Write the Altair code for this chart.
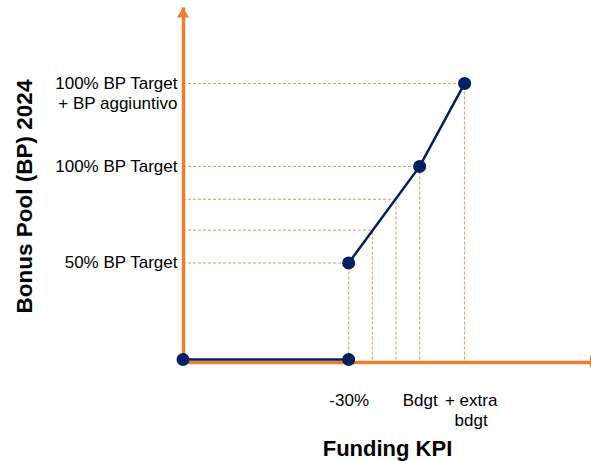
import altair as alt
import pandas as pd

# Bonus pool curve: flat floor up to -30%, then linear ramp to target and extra
kpi = [0, 70, 70, 100, 119]
bonus_pool = [0, 0, 50, 100, 143]
segment = ["floor", "floor", "ramp", "ramp", "ramp"]

# Dashed reference lines (drop lines to both axes)
guide_kpi = [70, 80, 90, 100, 119]
guide_bp = [50, 67, 83, 100, 143]

# Axis ticks and their labels
y_tick_values = [50, 100, 143]
y_tick_labels = [["50% BP Target"], ["100% BP Target"], ["100% BP Target", "+ BP aggiuntivo"]]
x_tick_values = [70, 100, 119]
x_tick_labels = [["-30%"], ["Bdgt"], ["+ extra", "bdgt"]]

# Arrow heads at the ends of the axes
arrow_kpi = [0, 174.2]
arrow_bp = [179.8, -1.0]
arrow_shape = ["triangle-up", "triangle-right"]

ORANGE = "#ED7D31"
NAVY = "#002060"
FONT = "Liberation Sans"


def label_expr(values, labels):
    expr = "''"
    for v, lab in reversed(list(zip(values, labels))):
        arr = "[" + ", ".join("'" + s + "'" for s in lab) + "]"
        expr = f"datum.value == {v} ? {arr} : {expr}"
    return expr


x_scale = alt.Scale(domain=[0, 172.4], nice=False, zero=False)
y_scale = alt.Scale(domain=[-1.3, 182.6], nice=False, zero=False)

x_axis = alt.Axis(
    title="Funding KPI",
    values=x_tick_values,
    labelExpr=label_expr(x_tick_values, x_tick_labels),
    labelPadding=38,
    labelBaseline="middle",
    labelAlign="center",
    labelLineHeight=20.5,
    # the two-line "+ extra bdgt" label sits a little to the right of its tick
    labelOffset={"condition": {"test": "datum.value == 119", "value": 6}, "value": 0},
    titleX=204,
    titleY=86,
    titleBaseline="middle",
    titleAlign="center",
)
y_axis = alt.Axis(
    title="Bonus Pool (BP) 2024",
    values=y_tick_values,
    labelExpr=label_expr(y_tick_values, y_tick_labels),
    labelPadding=6,
    labelBaseline="middle",
    labelAlign="right",
    labelLineHeight=20.5,
    titleAngle=270,
    titleX=-159,
    titleY=189,
    titleBaseline="middle",
    titleAlign="center",
    titleFontSize=22.5,
)


def X(field):
    return alt.X(field, type="quantitative", scale=x_scale, axis=x_axis)


def Y(field):
    return alt.Y(field, type="quantitative", scale=y_scale, axis=y_axis)


curve = pd.DataFrame({"kpi": kpi, "bp": bonus_pool, "segment": segment})
guides = pd.DataFrame({
    "kpi": guide_kpi,
    "bp": guide_bp,
    "origin_kpi": [0] * len(guide_kpi),
    "origin_bp": [0] * len(guide_bp),
})
arrows = pd.DataFrame({"kpi": arrow_kpi, "bp": arrow_bp, "shape": arrow_shape})

horizontal_guides = alt.Chart(guides).mark_rule(
    color=ORANGE, strokeWidth=1, strokeDash=[3, 2], opacity=0.85
).encode(x=X("origin_kpi"), x2="kpi", y=Y("bp"))

vertical_guides = alt.Chart(guides).mark_rule(
    color=ORANGE, strokeWidth=1, strokeDash=[3, 2], opacity=0.85
).encode(x=X("kpi"), y=Y("origin_bp"), y2="bp")

arrow_heads = alt.Chart(arrows).mark_point(
    filled=True, color=ORANGE, size=144, opacity=1, clip=False
).encode(x=X("kpi"), y=Y("bp"), shape=alt.Shape("shape:N", scale=None))

line = alt.Chart(curve).mark_line(color=NAVY, strokeWidth=2.5).encode(
    x=X("kpi"), y=Y("bp"), detail="segment:N"
)

points = alt.Chart(curve).mark_circle(color=NAVY, size=170, opacity=1).encode(
    x=X("kpi"), y=Y("bp")
)

chart = (
    alt.layer(horizontal_guides, vertical_guides, arrow_heads, line, points)
    .properties(
        width=408,
        height=355,
        autosize=alt.AutoSizeParams(type="none"),
        padding={"left": 183, "top": 7, "right": 0, "bottom": 99},
        background="white",
    )
    .configure_view(stroke=None)
    .configure_axis(
        domainColor=ORANGE,
        domainWidth=3.5,
        ticks=False,
        tickSize=0,
        grid=False,
        labelFont=FONT,
        labelFontSize=17,
        labelColor="#000000",
        labelOverlap=False,
        labelFlush=False,
        labelBound=False,
        titleFont=FONT,
        titleFontSize=22,
        titleFontWeight="bold",
        titleColor="#000000",
    )
)

chart.save("out.html", embed_options={"renderer": "svg", "actions": False})
